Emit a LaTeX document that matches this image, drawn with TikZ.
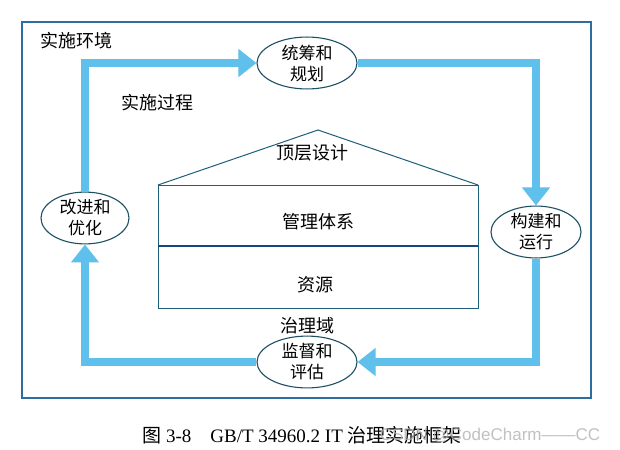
\documentclass[tikz,border=0pt]{standalone}
\usepackage{fontspec}
\setmainfont{Liberation Serif}
\newfontfamily\cjk{Noto Sans CJK SC}
\newfontfamily\wmfont{Liberation Sans}
\usetikzlibrary{shapes.geometric,arrows.meta}
\definecolor{loopblue}{RGB}{95,192,236}
\definecolor{edgeteal}{RGB}{30,80,100}
\definecolor{framecol}{RGB}{45,110,160}
\definecolor{housecol}{RGB}{30,95,120}
\definecolor{divcol}{RGB}{20,70,130}
\tikzset{
  ell/.style={ellipse,draw=edgeteal,line width=1.1pt,fill=white,minimum width=100pt,minimum height=46pt,inner sep=0pt,align=center,font=\cjk\fontsize{17}{21}\selectfont},
  lbl/.style={font=\cjk\fontsize{18}{20}\selectfont,inner sep=0pt},
  loopline/.style={draw=loopblue,line width=8.5pt,-{Triangle[length=18pt,width=27pt]}},
  frame/.style={draw=framecol,line width=1.3pt},
  house/.style={draw=housecol,line width=1pt}
}
\begin{document}
\begin{tikzpicture}[x=1pt,y=-1pt]
\useasboundingbox (0,0) rectangle (620,449);
\fill[white] (0,0) rectangle (620,449);
\draw[frame] (22,22) rectangle (591,398);
\node[lbl] (env) at (76,41) {实施环境};
\node[lbl] (proc) at (157,103) {实施过程};
\node[lbl] (dom) at (307,326) {治理域};
% house
\coordinate (hl) at (158,185);
\coordinate (hr) at (478,185);
\coordinate (apex) at (318,130);
\coordinate (bl) at (158,308);
\coordinate (br) at (478,308);
\coordinate (dl) at (158,246);
\coordinate (dr) at (478,246);
\draw[house] (hl) -- (apex) -- (hr);
\draw[house] (hl) rectangle (br);
\draw[draw=divcol,line width=2pt] (dl) -- (dr);
\node[lbl] (top) at (312,153) {顶层设计};
\node[lbl] (mgmt) at (318,222) {管理体系};
\node[lbl] (res) at (315,285) {资源};
% loop
\node[ell] (T) at (307,63) {统筹和\\规划};
\node[ell,minimum width=90pt,minimum height=50pt] (R) at (536,232) {构建和\\运行};
\node[ell] (B) at (307,362) {监督和\\评估};
\node[ell,minimum width=88pt,minimum height=48pt] (L) at (85,218) {改进和\\优化};
\draw[loopline] (L.north) |- (T.west);
\draw[loopline] (T.east) -| (R.north);
\draw[loopline] (R.south) |- (B.east);
\draw[loopline] (B.west) -| (L.south);
% caption
\node[inner sep=0pt,font=\fontsize{19}{21}\selectfont] (cap) at (302,435) {{\cjk 图} 3-8\quad GB/T 34960.2 IT {\cjk 治理实施框架}};
\node[inner sep=0pt,text=gray!60,opacity=0.8,font=\wmfont\fontsize{17}{19}\selectfont] (wm) at (490,436) {CSDN @CodeCharm——CC};
\end{tikzpicture}
\end{document}
